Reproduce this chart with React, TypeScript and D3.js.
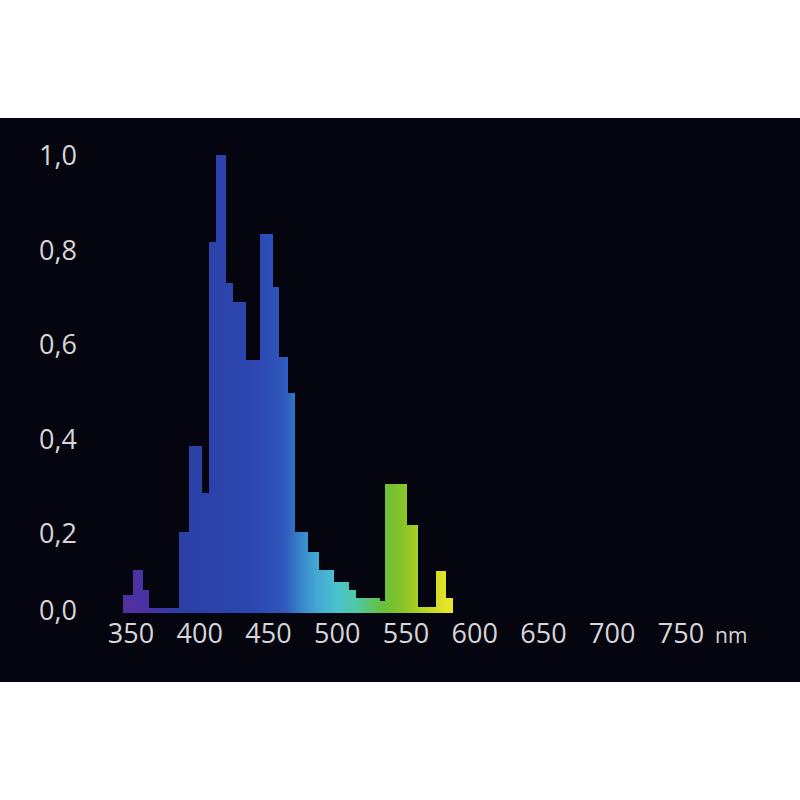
import React from "react";
import * as d3 from "d3";

// Bin edges (nm) and relative intensity for each bin between consecutive edges
const binEdges = [344, 351.5, 358.5, 363, 385, 392, 401.5, 406.5, 412, 418.5, 423.5, 433, 444, 452.5, 457.5, 463.5, 468.5, 478, 486, 497, 508, 513, 531, 534.5, 550, 558.5, 572, 579, 584];
const intensities = [0.039, 0.094, 0.05, 0.012, 0.177, 0.365, 0.262, 0.81, 1.0, 0.72, 0.68, 0.552, 0.828, 0.712, 0.559, 0.48, 0.177, 0.133, 0.094, 0.068, 0.05, 0.033, 0.026, 0.282, 0.192, 0.013, 0.092, 0.033];
const xTicks = [350, 400, 450, 500, 550, 600, 650, 700, 750];
const yTicks = [0, 0.2, 0.4, 0.6, 0.8, 1.0];
const xUnit = "nm";

// spectral colour ramp (wavelength -> colour)
const rampNm = [345, 365, 385, 440, 462, 472, 485, 500, 515, 532, 548, 562, 580];
const rampColors = ["#53309e", "#4633a6", "#2b3fa6", "#2c47b0", "#2f58bc", "#3580c8", "#42a8d4", "#4cc2cc", "#4fc8a0", "#66c040", "#88c426", "#b4d420", "#e8e42a"];

export default function App() {
  const W = 800, H = 800;
  const x = d3.scaleLinear().domain([350, 750]).range([131, 681]);
  const y = d3.scaleLinear().domain([0, 1]).range([613, 155]);
  const yLabel = d3.scaleLinear().domain([0.2, 1]).range([543, 165]);
  const fmt = (v: number) => d3.format(".1f")(v).replace(".", ",");
  const gx1 = x(rampNm[0]);
  const gx2 = x(rampNm[rampNm.length - 1]);
  const bars = intensities.map((v, i) => ({ x0: binEdges[i], x1: binEdges[i + 1], v }));
  const font = "'Open Sans', 'DejaVu Sans', sans-serif";
  return (
    <svg width={W} height={H} style={{ position: "absolute", left: 0, top: 0, background: "#ffffff" }}>
      <defs>
        <linearGradient id="spec" gradientUnits="userSpaceOnUse" x1={gx1} y1={0} x2={gx2} y2={0}>
          {rampNm.map((nm, i) => (
            <stop key={nm} offset={(x(nm) - gx1) / (gx2 - gx1)} stopColor={rampColors[i]} />
          ))}
        </linearGradient>
      </defs>
      <rect x={0} y={118} width={W} height={564} fill="#05050f" />
      <g shapeRendering="crispEdges">
        {bars.map((b, i) => (
          <rect
            key={i}
            x={x(b.x0)}
            y={y(b.v)}
            width={x(b.x1) - x(b.x0) + 0.6}
            height={y(0) - y(b.v)}
            fill="url(#spec)"
          />
        ))}
      </g>
      {yTicks.map((t) => (
        <text
          key={t}
          x={58}
          y={t === 0 ? 620 : yLabel(t)}
          textAnchor="middle"
          fontFamily={font}
          fontSize={27}
          fill="#d6d6d8"
        >
          {fmt(t)}
        </text>
      ))}
      {xTicks.map((t) => (
        <text
          key={t}
          x={x(t)}
          y={643}
          textAnchor="middle"
          fontFamily={font}
          fontSize={27}
          fill="#d6d6d8"
        >
          {t}
        </text>
      ))}
      <text x={715} y={643} fontFamily={font} fontSize={21} fill="#d6d6d8">
        {xUnit}
      </text>
    </svg>
  );
}
